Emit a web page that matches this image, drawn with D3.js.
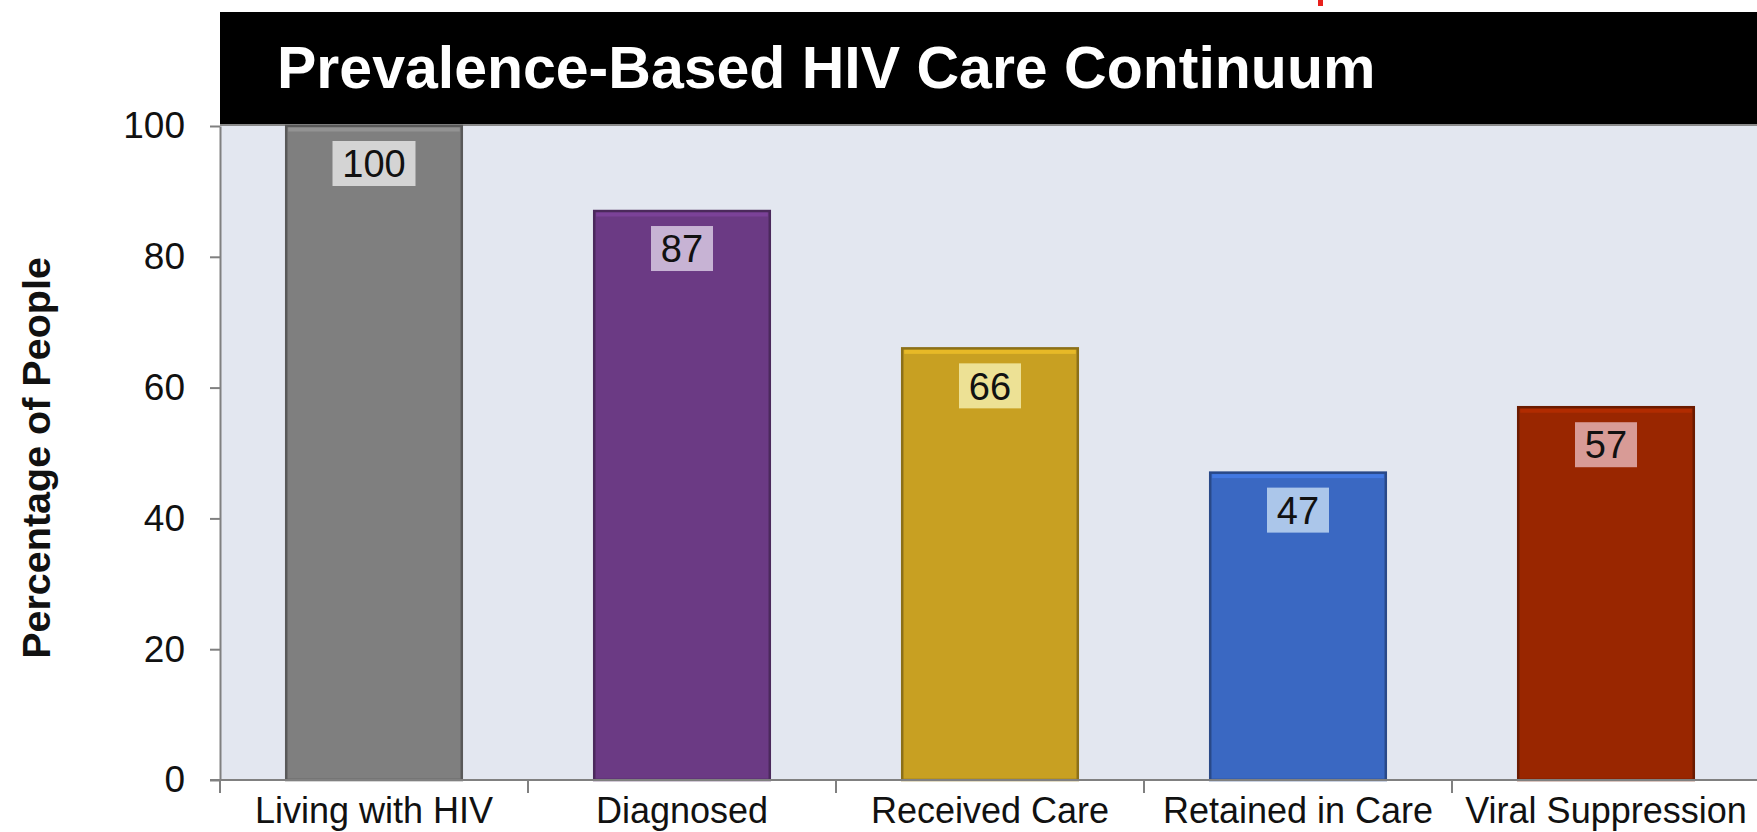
<!DOCTYPE html>
<html>
<head>
<meta charset="utf-8">
<script src="https://cdn.jsdelivr.net/npm/d3@7"></script>
<style>
  body { margin: 0; background: #fff; }
  svg { display: block; font-family: "Liberation Sans", Arial, Helvetica, sans-serif; }
</style>
</head>
<body>
<div id="chart"></div>
<script>
const categories = ["Living with HIV", "Diagnosed", "Received Care", "Retained in Care", "Viral Suppression"];
const values = [100, 87, 66, 47, 57];
const yTicks = [0, 20, 40, 60, 80, 100];
const barColors = ["#7f7f7f", "#6b3a84", "#c8a022", "#3a68c2", "#992600"];
const labelColors = ["#d4d4d4", "#c7b3d4", "#ede195", "#abc6ea", "#d89b96"];

const width = 1757, height = 832;
const plot = { left: 220, right: 1760, top: 126, bottom: 780 };

const svg = d3.select("#chart")
  .append("svg")
  .attr("width", width)
  .attr("height", height);

const y = d3.scaleLinear().domain([0, 100]).range([plot.bottom, plot.top]);

// band scale for the category slots (ticks sit on slot edges)
const xSlot = d3.scaleBand().domain(categories).range([plot.left, plot.right]).padding(0);
// bars: same step, centered in each slot
const xBar = d3.scaleBand().domain(categories).range([plot.left, plot.right])
  .paddingInner(0.43).paddingOuter(0.215);

// plot background
svg.append("rect")
  .attr("x", plot.left).attr("y", plot.top)
  .attr("width", width - plot.left).attr("height", plot.bottom - plot.top)
  .attr("fill", "#e3e7f0");

// title banner
svg.append("rect")
  .attr("x", plot.left).attr("y", 12)
  .attr("width", width - plot.left).attr("height", 112)
  .attr("fill", "#000");
svg.append("line")
  .attr("x1", plot.left).attr("x2", width)
  .attr("y1", 125).attr("y2", 125)
  .attr("stroke", "#8a8a8a").attr("stroke-width", 2);

svg.append("text")
  .attr("x", 277).attr("y", 88)
  .attr("fill", "#fff")
  .attr("font-size", 59)
  .attr("font-weight", "bold")
  .text("Prevalence-Based HIV Care Continuum");

// red mark peeking in at the top edge (rest is off the page)
svg.append("rect")
  .attr("x", 1318).attr("y", 0)
  .attr("width", 5).attr("height", 6)
  .attr("fill", "#e8201c");

// bars
const bars = svg.append("g").selectAll("g")
  .data(categories)
  .enter()
  .append("g");

bars.append("rect")
  .attr("x", d => xBar(d))
  .attr("y", (d, i) => y(values[i]))
  .attr("width", xBar.bandwidth())
  .attr("height", (d, i) => y(0) - y(values[i]))
  .attr("fill", (d, i) => barColors[i])
  .attr("stroke", (d, i) => d3.color(barColors[i]).darker(1))
  .attr("stroke-width", 2.5);

// light strip along the bar top
bars.append("rect")
  .attr("x", d => xBar(d) + 2)
  .attr("y", (d, i) => y(values[i]) + 1.5)
  .attr("width", xBar.bandwidth() - 4)
  .attr("height", 4)
  .attr("fill", (d, i) => d3.color(barColors[i]).brighter(0.5))
  .attr("opacity", 0.8);

// value labels
const fmt = d3.format("d");
bars.each(function (d, i) {
  const g = d3.select(this);
  const cx = xBar(d) + xBar.bandwidth() / 2;
  const txt = fmt(values[i]);
  const w = txt.length * 21 + 20;
  g.append("rect")
    .attr("x", cx - w / 2)
    .attr("y", y(values[i]) + 15)
    .attr("width", w)
    .attr("height", 45)
    .attr("fill", labelColors[i]);
  g.append("text")
    .attr("x", cx)
    .attr("y", y(values[i]) + 15 + 22.5)
    .attr("dy", "0.36em")
    .attr("text-anchor", "middle")
    .attr("font-size", 38)
    .attr("fill", "#111")
    .text(txt);
});

// y axis
const yAxis = svg.append("g")
  .attr("transform", `translate(${plot.left},0)`)
  .call(d3.axisLeft(y).tickValues(yTicks).tickSize(10).tickPadding(25).tickSizeOuter(0));
yAxis.select(".domain").attr("stroke", "#808080").attr("stroke-width", 2);
yAxis.selectAll(".tick line").attr("stroke", "#808080").attr("stroke-width", 2);
yAxis.selectAll(".tick text")
  .attr("font-size", 37)
  .attr("font-family", "Liberation Sans, Arial, sans-serif")
  .attr("fill", "#111");

// x axis: baseline + labels centered in slots
const xAxis = svg.append("g")
  .attr("transform", `translate(0,${plot.bottom})`)
  .call(d3.axisBottom(xSlot).tickSize(0).tickPadding(17));
xAxis.select(".domain").attr("stroke", "#808080").attr("stroke-width", 2)
  .attr("d", `M${plot.left - 10},0H${width}`);
xAxis.selectAll(".tick text")
  .attr("font-size", 36)
  .attr("font-family", "Liberation Sans, Arial, sans-serif")
  .attr("fill", "#111");

// slot boundary ticks
svg.append("g").selectAll("line")
  .data(categories)
  .enter()
  .append("line")
  .attr("x1", d => xSlot(d)).attr("x2", d => xSlot(d))
  .attr("y1", plot.bottom).attr("y2", plot.bottom + 13)
  .attr("stroke", "#808080").attr("stroke-width", 2);

// y axis title
svg.append("text")
  .attr("transform", "translate(50,458) rotate(-90)")
  .attr("text-anchor", "middle")
  .attr("font-size", 39.5)
  .attr("font-weight", "bold")
  .attr("fill", "#111")
  .text("Percentage of People");
</script>
</body>
</html>
